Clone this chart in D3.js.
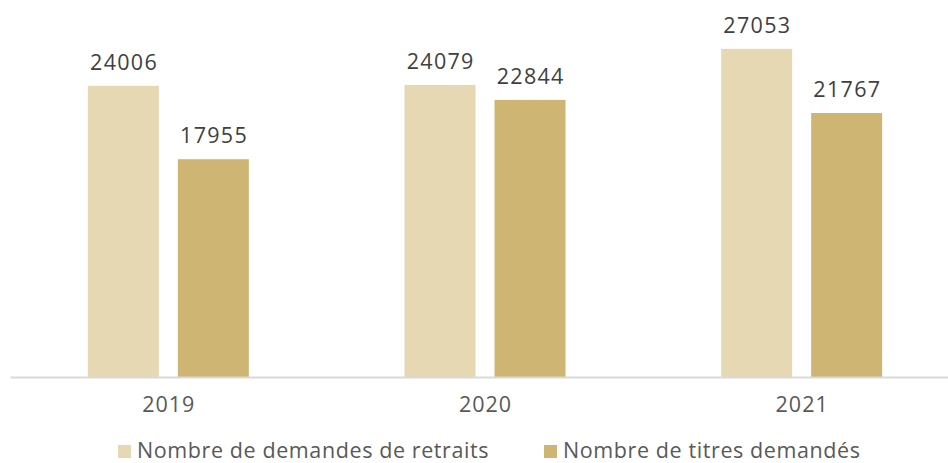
<!DOCTYPE html>
<html><head><meta charset="utf-8">
<script src="https://cdn.jsdelivr.net/npm/d3@7"></script>
<style>html,body{margin:0;padding:0;background:#fff;}svg{display:block;font-family:"Open Sans",sans-serif;}</style>
</head><body><svg id="c" width="948" height="463"></svg>
<script>
const years = ["2019", "2020", "2021"];
const seriesNames = ["Nombre de demandes de retraits", "Nombre de titres demandés"];
const demandesRetraits = [24006, 24079, 27053];
const titresDemandes = [17955, 22844, 21767];
const colors = ["#E6D8B3", "#CFB573"];

const svg = d3.select("#c");
const FONT = "'Open Sans',sans-serif";
const x0 = d3.scaleBand().domain(years).range([10, 960]).paddingInner(0).paddingOuter(0);
const groupW = 161;
const x1 = d3.scaleBand().domain(seriesNames).range([0, groupW]).paddingInner(0.2111).paddingOuter(0);
const y = d3.scaleLinear().domain([0, 30000]).range([377, 13.1]);

const data = years.map((yr, i) => ({year: yr, values: [demandesRetraits[i], titresDemandes[i]]}));

const groups = svg.append("g").selectAll("g").data(data).join("g")
  .attr("transform", d => `translate(${x0(d.year) + (x0.bandwidth() - groupW) / 2},0)`);

groups.selectAll("rect").data(d => d.values.map((v, j) => ({v, j})))
  .join("rect")
  .attr("x", d => x1(seriesNames[d.j]))
  .attr("width", x1.bandwidth())
  .attr("y", d => y(d.v))
  .attr("height", d => y(0) - y(d.v))
  .attr("fill", d => colors[d.j]);

groups.selectAll("text.val").data(d => d.values.map((v, j) => ({v, j})))
  .join("text").attr("class", "val")
  .attr("x", d => x1(seriesNames[d.j]) + x1.bandwidth() / 2 + 0.7)
  .attr("y", d => y(d.v) - 16)
  .attr("text-anchor", "middle")
  .attr("font-size", 21.5)
  .attr("letter-spacing", 1.3)
  .attr("fill", "#404040")
  .text(d => d.v);

const axis = svg.append("g").attr("transform", "translate(0,377)")
  .call(d3.axisBottom(x0).tickSize(0).tickPadding(20));
axis.select(".domain").attr("stroke", "#D9D9D9").attr("stroke-width", 2);
axis.selectAll("text").attr("font-size", 21.5).attr("fill", "#595959")
  .attr("font-family", FONT).attr("dy", "0.71em").attr("letter-spacing", 1).attr("dx", 0.5);

const leg = svg.append("g");
const starts = [118, 544];
seriesNames.forEach((s, i) => {
  leg.append("rect").attr("x", starts[i]).attr("y", 445).attr("width", 13).attr("height", 13).attr("fill", colors[i]);
  leg.append("text").attr("x", starts[i] + 19).attr("y", 458).attr("font-size", 21.5)
    .attr("letter-spacing", 0.6).attr("fill", "#595959").text(s);
});
</script></body></html>
